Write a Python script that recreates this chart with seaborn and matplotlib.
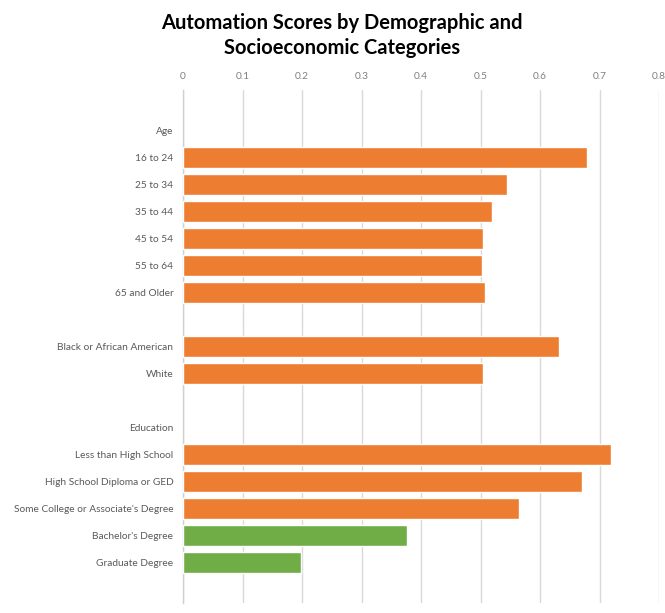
import matplotlib
matplotlib.use("Agg")
import matplotlib.pyplot as plt
import seaborn as sns
import pandas as pd

# Row keys (top to bottom), the text shown for each row, and the bar values
row_keys = ["Age", "16 to 24", "25 to 34", "35 to 44", "45 to 54", "55 to 64",
            "65 and Older", "gap_race", "Black or African American", "White",
            "gap_edu", "Education", "Less than High School",
            "High School Diploma or GED", "Some College or Associate's Degree",
            "Bachelor's Degree", "Graduate Degree"]
row_labels = ["Age", "16 to 24", "25 to 34", "35 to 44", "45 to 54", "55 to 64",
              "65 and Older", "", "Black or African American", "White",
              "", "Education", "Less than High School",
              "High School Diploma or GED", "Some College or Associate's Degree",
              "Bachelor's Degree", "Graduate Degree"]

bar_categories = ["16 to 24", "25 to 34", "35 to 44", "45 to 54", "55 to 64",
                  "65 and Older", "Black or African American", "White",
                  "Less than High School", "High School Diploma or GED",
                  "Some College or Associate's Degree", "Bachelor's Degree",
                  "Graduate Degree"]
bar_values = [0.679, 0.545, 0.519, 0.505, 0.502, 0.507, 0.632, 0.505,
              0.719, 0.670, 0.564, 0.376, 0.198]
bar_groups = ["high"] * 11 + ["low"] * 2

x_ticks = [0, 0.1, 0.2, 0.3, 0.4, 0.5, 0.6, 0.7, 0.8]
x_tick_labels = ["0", "0.1", "0.2", "0.3", "0.4", "0.5", "0.6", "0.7", "0.8"]

df = pd.DataFrame({"category": bar_categories, "score": bar_values,
                   "group": bar_groups})

sns.set_theme(style="white")
plt.rcParams["font.family"] = ["Lato", "DejaVu Sans"]

fig = plt.figure(figsize=(6.65, 6.13), dpi=100)
ax = fig.add_axes([183 / 665, 1 - 603 / 613, 476 / 665, 513 / 613])

sns.barplot(data=df, x="score", y="category", hue="group", order=row_keys,
            palette={"high": "#ED7D31", "low": "#70AD47"}, width=0.77,
            saturation=1, legend=False, ax=ax, zorder=3)

ax.set_xlim(0, 0.8)
ax.set_ylim(17.5, -1.5)
ax.set_xticks(x_ticks)
ax.set_xticklabels(x_tick_labels)
ax.set_yticks(range(len(row_keys)))
ax.set_yticklabels(row_labels)
ax.xaxis.tick_top()
ax.tick_params(axis="x", length=0, pad=6.5, labelsize=7.3, labelcolor="#7f7f7f")
ax.tick_params(axis="y", length=0, pad=7, labelsize=7.3, labelcolor="#595959")
ax.set_xlabel("")
ax.set_ylabel("")

ax.grid(axis="x", color="#d9d9d9", linewidth=1.0, zorder=0)
ax.set_axisbelow(True)
for side in ["top", "right", "bottom"]:
    ax.spines[side].set_visible(False)
ax.spines["left"].set_color("#d0d0d0")
ax.spines["left"].set_linewidth(1.0)

fig.text(0.514, 0.979, "Automation Scores by Demographic and\nSocioeconomic Categories",
         ha="center", va="top", fontsize=14.5, fontweight="bold",
         color="#000000", linespacing=1.3)

fig.savefig("out.png", dpi=100, facecolor="white")
